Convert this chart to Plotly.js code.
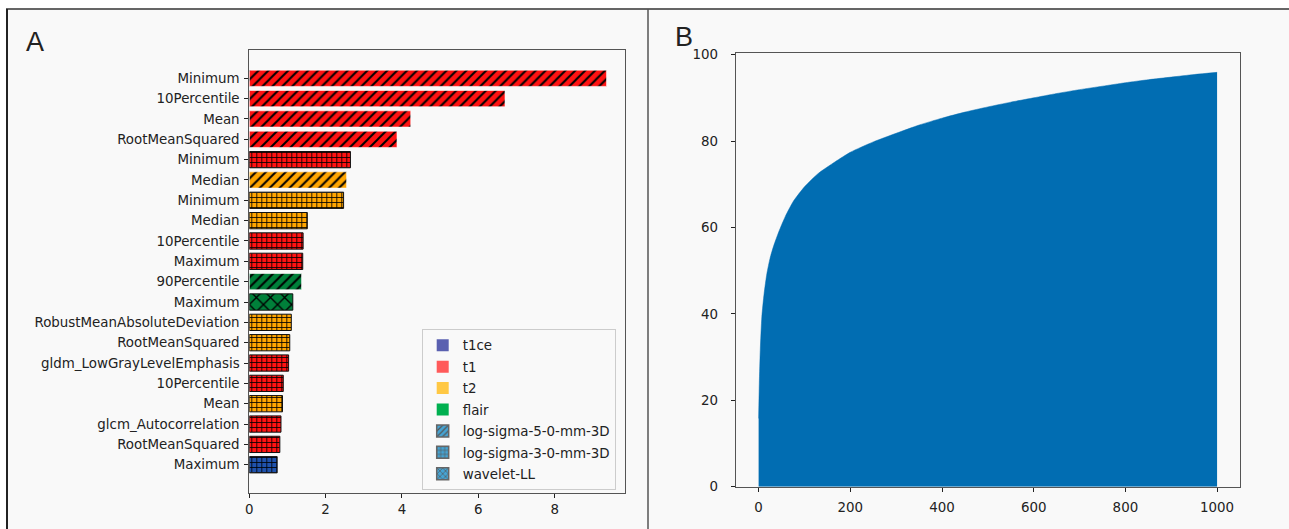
<!DOCTYPE html>
<html>
<head>
<meta charset="utf-8">
<script src="https://cdn.plot.ly/plotly-3.0.1.min.js"></script>
<style>
  html, body { margin: 0; padding: 0; background: #ffffff; }
  #chart { width: 1289px; height: 529px; }
</style>
</head>
<body>
<div id="chart"></div>
<script>
// ---------- Panel A data ----------
const featureLabels = [
  'Minimum', '10Percentile', 'Mean', 'RootMeanSquared', 'Minimum',
  'Median', 'Minimum', 'Median', '10Percentile', 'Maximum',
  '90Percentile', 'Maximum', 'RobustMeanAbsoluteDeviation', 'RootMeanSquared', 'gldm_LowGrayLevelEmphasis',
  '10Percentile', 'Mean', 'glcm_Autocorrelation', 'RootMeanSquared', 'Maximum'
];
const featureValues = [
  9.36, 6.70, 4.23, 3.87, 2.65,
  2.55, 2.47, 1.52, 1.41, 1.40,
  1.37, 1.14, 1.10, 1.06, 1.03,
  0.89, 0.87, 0.83, 0.80, 0.73
];
const featureModality = [
  't1', 't1', 't1', 't1', 't1',
  't2', 't2', 't2', 't1', 't1',
  'flair', 'flair', 't2', 't2', 't1',
  't1', 't2', 't1', 't1', 't1ce'
];
const featureFilter = [
  'log-sigma-5-0-mm-3D', 'log-sigma-5-0-mm-3D', 'log-sigma-5-0-mm-3D', 'log-sigma-5-0-mm-3D', 'log-sigma-3-0-mm-3D',
  'log-sigma-5-0-mm-3D', 'log-sigma-3-0-mm-3D', 'log-sigma-3-0-mm-3D', 'log-sigma-3-0-mm-3D', 'log-sigma-3-0-mm-3D',
  'log-sigma-5-0-mm-3D', 'wavelet-LL', 'log-sigma-3-0-mm-3D', 'log-sigma-3-0-mm-3D', 'log-sigma-3-0-mm-3D',
  'log-sigma-3-0-mm-3D', 'log-sigma-3-0-mm-3D', 'log-sigma-3-0-mm-3D', 'log-sigma-3-0-mm-3D', 'log-sigma-3-0-mm-3D'
];
const modalityNames = ['t1ce', 't1', 't2', 'flair'];
const filterNames = ['log-sigma-5-0-mm-3D', 'log-sigma-3-0-mm-3D', 'wavelet-LL'];

// ---------- Panel B data ----------
const componentIndex = [0, 1.5, 3.6, 7, 12, 18, 25, 33, 44, 58, 76, 100, 130, 167, 200, 250, 300, 350, 400, 450, 500, 550, 600, 650, 700, 750, 800, 850, 900, 950, 1000];
const cumulativeValue = [15.8, 23.9, 31.6, 39.3, 44.7, 49.3, 52.9, 55.8, 59.0, 62.5, 66.1, 69.4, 72.5, 75.2, 77.4, 79.8, 81.8, 83.7, 85.3, 86.7, 87.9, 89.0, 90.0, 91.0, 91.9, 92.7, 93.5, 94.2, 94.8, 95.4, 95.9];

// ---------- styles ----------
const barColor = { t1ce: '#1f52ad', t1: '#ff1212', t2: '#ffa500', flair: '#00803a' };
const legendColor = { t1ce: '#5a60b0', t1: '#ff5a5a', t2: '#ffc844', flair: '#00b050' };
const filterShape = { 'log-sigma-5-0-mm-3D': '/', 'log-sigma-3-0-mm-3D': '+', 'wavelet-LL': 'x' };
const filterSize = { 'log-sigma-5-0-mm-3D': 7, 'log-sigma-3-0-mm-3D': 5, 'wavelet-LL': 10 };
const filterSolidity = { 'log-sigma-5-0-mm-3D': 0.28, 'log-sigma-3-0-mm-3D': 0.3, 'wavelet-LL': 0.25 };
const filterEdge = { 'log-sigma-5-0-mm-3D': 'rgba(255,255,255,0.6)', 'log-sigma-3-0-mm-3D': '#111111', 'wavelet-LL': '#111111' };

const positions = featureLabels.map((_, i) => i);
const FONT = 'DejaVu Sans, sans-serif';
const BG = '#f9f9f9';

const traces = [];
// one bar trace per modality/filter combination (scalar styling)
const groups = {};
positions.forEach(i => {
  const key = featureModality[i] + '|' + featureFilter[i];
  (groups[key] = groups[key] || []).push(i);
});
Object.keys(groups).forEach(key => {
  const idx = groups[key];
  const m = featureModality[idx[0]], f = featureFilter[idx[0]];
  traces.push({
    type: 'bar', orientation: 'h',
    x: idx.map(i => featureValues[i]), y: idx.map(i => positions[i]), width: 0.8,
    xaxis: 'x', yaxis: 'y', showlegend: false, hoverinfo: 'skip',
    marker: {
      color: barColor[m],
      line: { color: filterEdge[f], width: 1 },
      pattern: { shape: filterShape[f], size: filterSize[f], solidity: filterSolidity[f],
                 fgcolor: '#000000', fgopacity: 1, bgcolor: barColor[m], fillmode: 'overlay' }
    }
  });
});

// legend keys (kept outside the visible y range)
modalityNames.forEach(m => traces.push({
  type: 'bar', orientation: 'h', x: [0], y: [-50], name: m, legendgroup: m, xaxis: 'x', yaxis: 'y', hoverinfo: 'skip',
  marker: { color: legendColor[m], line: { width: 0 } }
}));
filterNames.forEach(f => traces.push({
  type: 'bar', orientation: 'h', x: [0], y: [-50], name: f, legendgroup: f, xaxis: 'x', yaxis: 'y', hoverinfo: 'skip',
  marker: {
    color: '#45a4d4', line: { color: '#666666', width: 1.5 },
    pattern: { shape: filterShape[f], size: 5, solidity: 0.3, fgcolor: '#555555', bgcolor: '#45a4d4', fgopacity: 1, fillmode: 'overlay' }
  }
}));

// Panel B
traces.push({
  type: 'scatter', mode: 'lines',
  x: componentIndex, y: cumulativeValue,
  fill: 'tozeroy', fillcolor: '#016db2',
  line: { color: '#016db2', width: 0.5, shape: 'spline', smoothing: 0.6 },
  xaxis: 'x2', yaxis: 'y2', showlegend: false, hoverinfo: 'skip'
});

const W = 1289, H = 529;
const px = v => v / W;
const py = v => 1 - v / H;

const axisCommon = {
  showline: true, mirror: true, linecolor: '#555555', linewidth: 1,
  ticks: 'outside', ticklen: 4, tickcolor: '#222222', tickwidth: 1,
  showgrid: false, zeroline: false,
  tickfont: { family: FONT, size: 13.4, color: '#222222' },
  fixedrange: true
};

const layout = {
  width: W, height: H,
  margin: { l: 0, r: 0, t: 0, b: 0 },
  paper_bgcolor: '#ffffff', plot_bgcolor: BG,
  showlegend: true,
  barmode: 'overlay',
  xaxis: Object.assign({}, axisCommon, {
    domain: [px(249.3), px(624.5)], range: [0, 9.83],
    tickvals: [0, 2, 4, 6, 8], anchor: 'y'
  }),
  yaxis: Object.assign({}, axisCommon, {
    domain: [py(493), py(50)], range: [20.39, -1.39],
    tickvals: positions, ticktext: featureLabels, anchor: 'x', ticklabelstandoff: 2
  }),
  xaxis2: Object.assign({}, axisCommon, {
    domain: [px(735.7), px(1240)], range: [-50, 1050],
    tickvals: [0, 200, 400, 600, 800, 1000], anchor: 'y2', ticklabelstandoff: 4
  }),
  yaxis2: Object.assign({}, axisCommon, {
    domain: [py(486.7), py(52.7)], range: [0, 100.45],
    tickvals: [0, 20, 40, 60, 80, 100], anchor: 'x2', ticklabelstandoff: 10
  }),
  legend: {
    x: px(421.7), y: py(329), xanchor: 'left', yanchor: 'top',
    bgcolor: BG, bordercolor: '#cccccc', borderwidth: 1,
    font: { family: FONT, size: 13.4, color: '#222222' },
    traceorder: 'grouped', tracegroupgap: 1
  },
  shapes: [
    { type: 'rect', xref: 'paper', yref: 'paper', x0: px(7), x1: 1, y0: 0, y1: py(9), fillcolor: BG, line: { width: 0 }, layer: 'below' },
    { type: 'line', xref: 'paper', yref: 'paper', x0: px(6), x1: 1, y0: py(9), y1: py(9), line: { color: '#333333', width: 1.5 } },
    { type: 'line', xref: 'paper', yref: 'paper', x0: px(7), x1: px(7), y0: 0, y1: py(9), line: { color: '#222222', width: 2 } },
    { type: 'line', xref: 'paper', yref: 'paper', x0: px(648), x1: px(648), y0: 0, y1: py(9), line: { color: '#555555', width: 1.5 } }
  ],
  annotations: [
    { text: 'A', xref: 'paper', yref: 'paper', x: px(24), y: py(25), xanchor: 'left', yanchor: 'top', showarrow: false,
      font: { family: 'Liberation Sans, Arial, sans-serif', size: 27, color: '#222222' } },
    { text: 'B', xref: 'paper', yref: 'paper', x: px(673), y: py(20), xanchor: 'left', yanchor: 'top', showarrow: false,
      font: { family: 'Liberation Sans, Arial, sans-serif', size: 27, color: '#222222' } }
  ]
};

Plotly.newPlot('chart', traces, layout, { staticPlot: true, displayModeBar: false });
</script>
</body>
</html>
